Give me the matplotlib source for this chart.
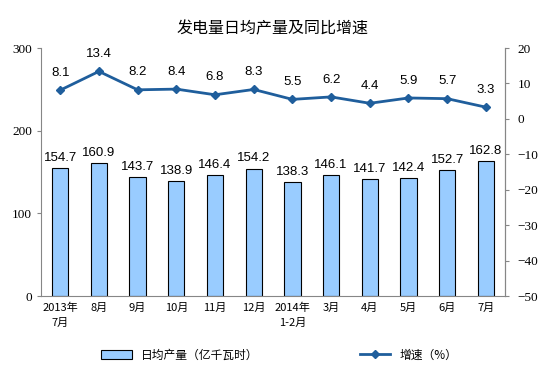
import numpy as np
import matplotlib
matplotlib.use("Agg")
import matplotlib.pyplot as plt
from matplotlib.lines import Line2D
from matplotlib.patches import Patch

plt.rcParams['font.family'] = ['Noto Sans CJK SC', 'DejaVu Sans']

# data
months = ["2013年\n7月", "8月", "9月", "10月", "11月", "12月", "2014年\n1-2月",
          "3月", "4月", "5月", "6月", "7月"]
output = [154.7, 160.9, 143.7, 138.9, 146.4, 154.2, 138.3, 146.1, 141.7, 142.4, 152.7, 162.8]
growth = [8.1, 13.4, 8.2, 8.4, 6.8, 8.3, 5.5, 6.2, 4.4, 5.9, 5.7, 3.3]

bar_color = "#99CCFF"
line_color = "#1F5E9C"

fig = plt.figure(figsize=(5.45, 3.81), dpi=100)
ax = fig.add_axes([0.075, 0.223, 0.852, 0.651])
x = np.arange(len(months))

ax.bar(x, output, width=0.42, color=bar_color, edgecolor="black", linewidth=0.8)
for xi, v in zip(x, output):
    ax.text(xi, v + 5, f"{v:.1f}", ha="center", va="bottom", fontsize=9.5,
            family="Liberation Sans")

ax.set_ylim(0, 300)
ax.set_xlim(-0.5, len(months) - 0.5)
ax.set_yticks([0, 100, 200, 300])
ax.set_xticks(x)
ax.set_xticklabels(months, fontsize=8, linespacing=1.5)
ax.tick_params(axis="x", length=0, pad=5)
ax.tick_params(axis="y", length=3, labelsize=9.5)
for lab in ax.get_yticklabels():
    lab.set_family("Liberation Serif")
ax.spines["top"].set_visible(False)
for s in ["left", "bottom", "right"]:
    ax.spines[s].set_color("#868686")
    ax.spines[s].set_linewidth(0.8)
ax.tick_params(axis="y", color="#868686")

ax2 = ax.twinx()
ax2.plot(x, growth, color=line_color, linewidth=2, marker="D", markersize=4.5)
for xi, v in zip(x, growth):
    ax2.text(xi, v + 3.2, f"{v:.1f}", ha="center", va="bottom", fontsize=9.5,
             family="Liberation Sans")
ax2.set_ylim(-50, 20)
ax2.set_yticks(range(-50, 21, 10))
ax2.tick_params(axis="y", length=3, labelsize=9.5, color="#868686", pad=6)
for lab in ax2.get_yticklabels():
    lab.set_family("Liberation Serif")
for s in ["top", "left", "bottom"]:
    ax2.spines[s].set_visible(False)
ax2.spines["right"].set_color("#868686")

fig.text(0.5, 0.925, "发电量日均产量及同比增速", ha="center", va="center", fontsize=11.5)

h1 = Patch(facecolor=bar_color, edgecolor="black", linewidth=0.8)
h2 = Line2D([], [], color=line_color, linewidth=2, marker="D", markersize=4.5)
fig.legend([h1], ["日均产量（亿千瓦时）"], loc="center", bbox_to_anchor=(0.33, 0.068),
           frameon=False, fontsize=8.5, handlelength=2.6, handleheight=0.8)
fig.legend([h2], ["增速（%）"], loc="center", bbox_to_anchor=(0.75, 0.068),
           frameon=False, fontsize=8.5, handlelength=2.6)

fig.savefig("out.png", dpi=100)
